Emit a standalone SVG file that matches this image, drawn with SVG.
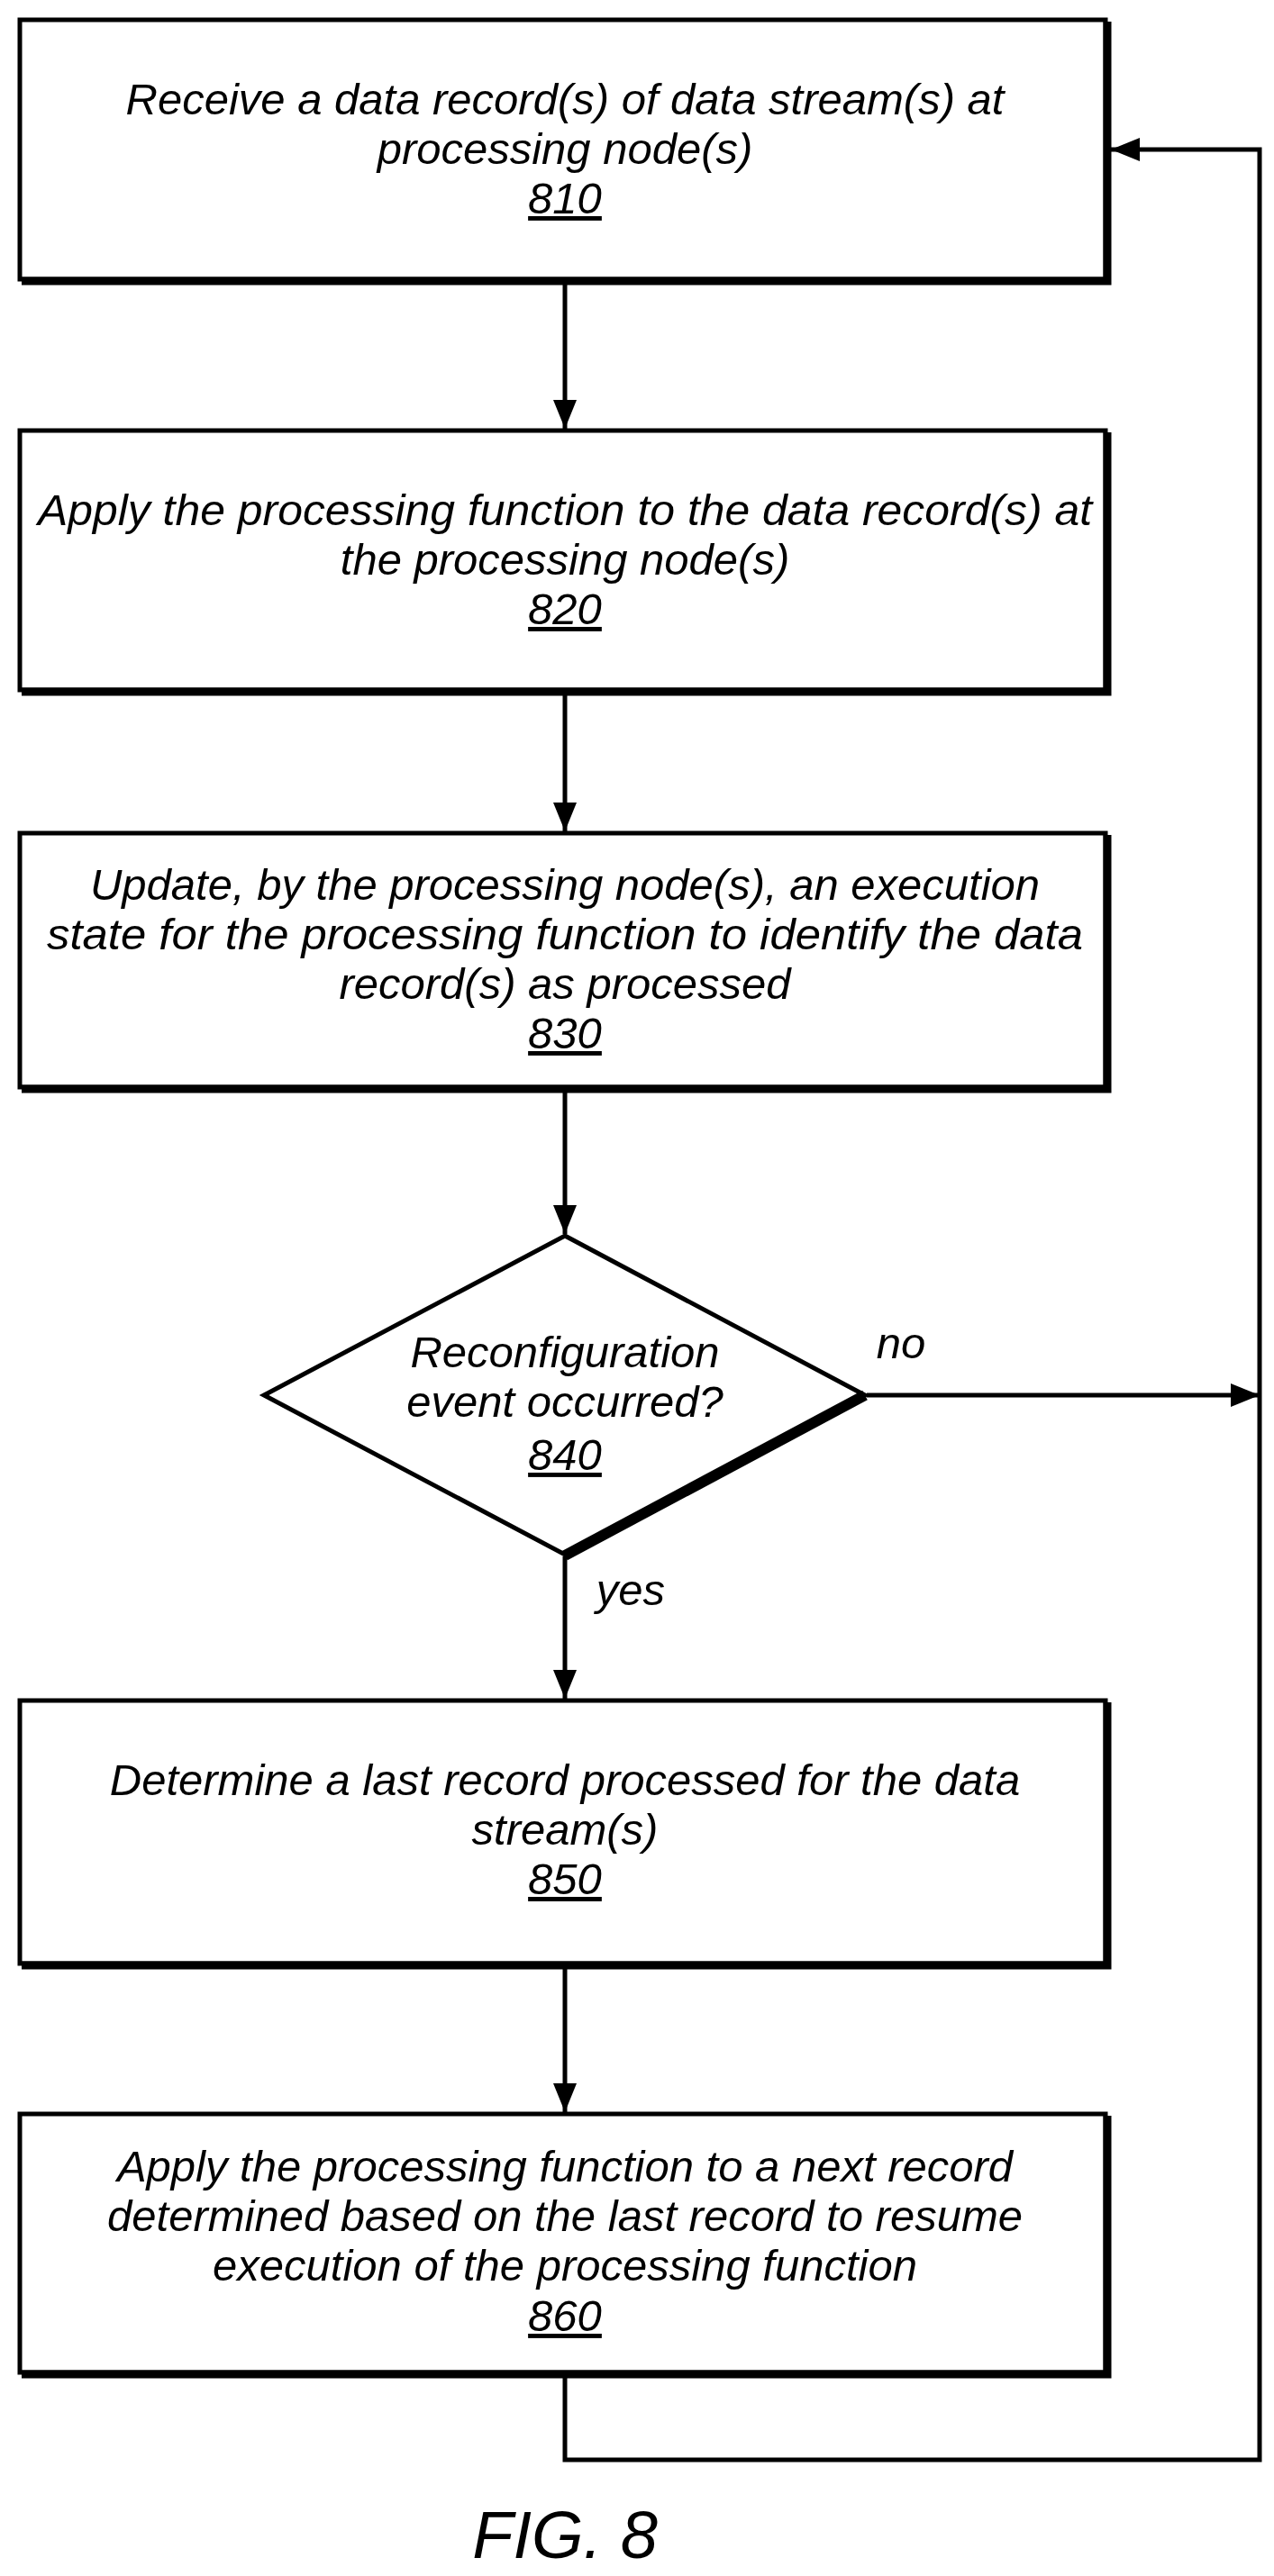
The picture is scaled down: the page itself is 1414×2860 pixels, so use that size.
<svg xmlns="http://www.w3.org/2000/svg" width="1414" height="2860" viewBox="0 0 1414 2860">
<style>
.b{fill:#fff;stroke:#000;stroke-width:5}
.s{fill:none;stroke:#000;stroke-width:9}
.c{fill:none;stroke:#000;stroke-width:5}
text{font-family:"Liberation Sans",Arial,sans-serif;font-style:italic;font-size:49px;text-anchor:middle;fill:#000}
.n{text-decoration:underline}
</style>
<defs>
<marker id="ah" markerWidth="32" markerHeight="26" refX="32" refY="13" orient="auto" markerUnits="userSpaceOnUse" viewBox="0 0 32 26"><path d="M0,0L32,13L0,26z"/></marker></defs>
<g id="connectors">
<line class="c" x1="627" y1="314" x2="627" y2="476" marker-end="url(#ah)"/>
<line class="c" x1="627" y1="770" x2="627" y2="923" marker-end="url(#ah)"/>
<line class="c" x1="627" y1="1211" x2="627" y2="1370" marker-end="url(#ah)"/>
<line class="c" x1="627" y1="1728" x2="627" y2="1886" marker-end="url(#ah)"/>
<line class="c" x1="627" y1="2184" x2="627" y2="2345" marker-end="url(#ah)"/>
<line class="c" x1="962" y1="1549" x2="1398" y2="1549" marker-end="url(#ah)"/>
<polyline class="c" points="627,2638 627,2731 1398,2731 1398,166 1233,166" marker-end="url(#ah)"/>
<text x="1000" y="1508">no</text>
<text x="700" y="1782">yes</text>
</g>
<g id="n810"><rect class="b" x="22" y="22" width="1205" height="288"/><polyline class="s" points="24,312 1229,312 1229,24"/>
<text x="627" y="127">Receive a data record(s) of data stream(s) at</text><text x="627" y="182">processing node(s)</text><text class="n" x="627" y="237">810</text></g>
<g id="n820"><rect class="b" x="22" y="478" width="1205" height="288"/><polyline class="s" points="24,768 1229,768 1229,480"/>
<text x="627" y="583" textLength="1170" lengthAdjust="spacingAndGlyphs">Apply the processing function to the data record(s) at</text><text x="627" y="638">the processing node(s)</text><text class="n" x="627" y="693">820</text></g>
<g id="n830"><rect class="b" x="22" y="925" width="1205" height="282"/><polyline class="s" points="24,1209 1229,1209 1229,927"/>
<text x="627" y="999">Update, by the processing node(s), an execution</text><text x="627" y="1054" textLength="1150" lengthAdjust="spacingAndGlyphs">state for the processing function to identify the data</text><text x="627" y="1109">record(s) as processed</text><text class="n" x="627" y="1164">830</text></g>
<g id="n840"><polygon class="b" points="627,1372 960,1549 627,1726 293,1549"/><line x1="960" y1="1549" x2="627" y2="1727" stroke="#000" stroke-width="12"/>
<text x="627" y="1518">Reconfiguration</text><text x="627" y="1573">event occurred?</text><text class="n" x="627" y="1632">840</text></g>
<g id="n850"><rect class="b" x="22" y="1888" width="1205" height="292"/><polyline class="s" points="24,2182 1229,2182 1229,1890"/>
<text x="627" y="1993">Determine a last record processed for the data</text><text x="627" y="2048">stream(s)</text><text class="n" x="627" y="2103">850</text></g>
<g id="n860"><rect class="b" x="22" y="2347" width="1205" height="287"/><polyline class="s" points="24,2636 1229,2636 1229,2349"/>
<text x="627" y="2422">Apply the processing function to a next record</text><text x="627" y="2477">determined based on the last record to resume</text><text x="627" y="2532">execution of the processing function</text><text class="n" x="627" y="2588">860</text></g>
<text x="627" y="2840" style="font-size:74px">FIG. 8</text>
</svg>
